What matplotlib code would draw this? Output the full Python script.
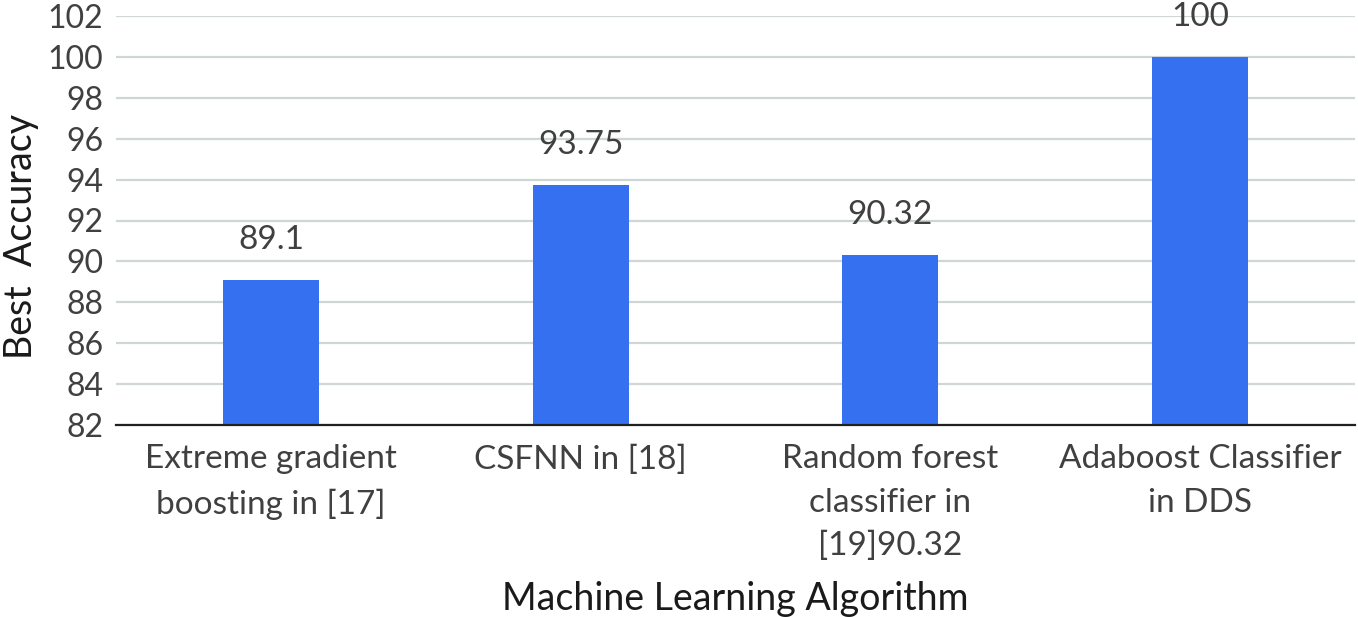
import matplotlib.pyplot as plt
import numpy as np

# Data
algorithms = ["Extreme gradient\nboosting in [17]", "CSFNN in [18]",
              "Random forest\nclassifier in\n[19]90.32", "Adaboost Classifier\nin DDS"]
accuracy = [89.1, 93.75, 90.32, 100]
value_labels = ["89.1", "93.75", "90.32", "100"]
y_ticks = list(range(82, 103, 2))

plt.rcParams['font.family'] = ['Lato', 'DejaVu Sans']
text_col = "#404040"

fig = plt.figure(figsize=(13.58, 6.17), dpi=100)
ax = fig.add_axes([116/1358, (617-425)/617, (1355-116)/1358, (425-16)/617])

x = np.arange(len(algorithms))
bars = ax.bar(x, accuracy, width=0.31, color="#3570f0", zorder=3)

#value labels above bars
for b, lab in zip(bars, value_labels):
    ax.annotate(lab, (b.get_x() + b.get_width()/2, b.get_height()),
                xytext=(0, 18), textcoords="offset points",
                ha="center", va="bottom", fontsize=24, color=text_col)

ax.set_ylim(82, 102)
ax.set_xlim(-0.5, 3.5)
ax.set_yticks(y_ticks)
ax.set_xticks(x)
ax.set_xticklabels(algorithms, fontsize=24, color=text_col, linespacing=1.55)
ax.tick_params(axis='y', labelsize=23, labelcolor=text_col, length=0, pad=9)
ax.tick_params(axis='x', length=0, pad=14)

ax.yaxis.grid(True, color="#d0d6d6", linewidth=1.6, zorder=0)
for s in ["top", "right", "left"]:
    ax.spines[s].set_visible(False)
ax.spines["bottom"].set_color("#202020")
ax.spines["bottom"].set_linewidth(1.6)
ax.spines["bottom"].set_zorder(4)

ax.set_ylabel("Best  Accuracy", fontsize=27, color="#1a1a1a")
ax.yaxis.set_label_coords(-0.062, 0.46)
ax.set_xlabel("Machine Learning Algorithm", fontsize=27, color="#1a1a1a", labelpad=14)

fig.savefig("out.png", dpi=100)
